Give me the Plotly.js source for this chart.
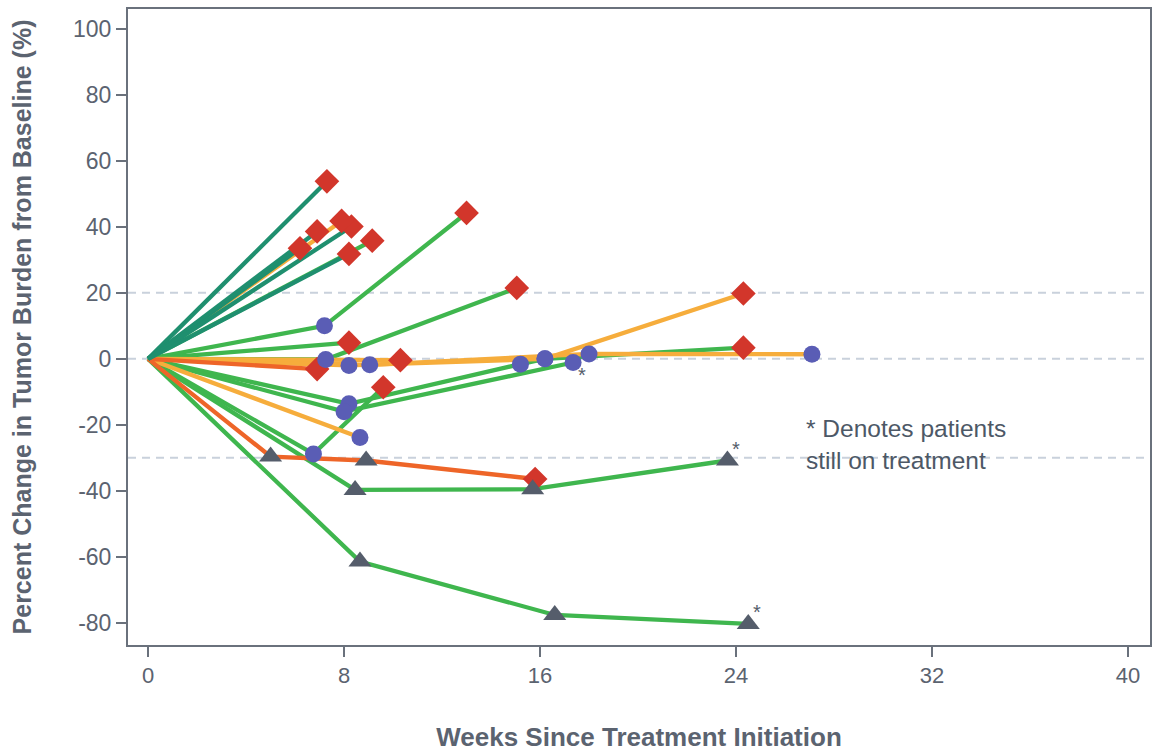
<!DOCTYPE html>
<html>
<head>
<meta charset="utf-8">
<script src="https://cdn.plot.ly/plotly-3.0.1.min.js"></script>
<style>html,body{margin:0;padding:0;background:#fff;}#chart{width:1154px;height:755px;}</style>
</head>
<body>
<div id="chart"></div>
<script>
// ---- Data (weeks since treatment initiation, % change in tumor burden) ----
const patientIds = ["T1","T2","T3","T4","T5","O1","O2","O3","O4","O5","R1","R2",
                    "G1","G2","G3","G4","G5","G6","G7","G8","G9"];
const patientGroup = ["teal","teal","teal","teal","teal","orange","orange","orange","orange","orange","red","red",
                      "green","green","green","green","green","green","green","green","green"];
const patientWeeks = [
  [0, 7.3], [0, 6.2], [0, 6.9], [0, 8.3], [0, 8.2],
  [0, 7.9], [0, 8.65], [0, 8.2, 16.2, 24.3], [0, 9.05, 18.0, 27.1], [0, 10.3],
  [0, 6.9], [0, 5.0, 8.9, 15.8],
  [0, 7.2, 13.0], [0, 8.2], [0, 7.25, 15.05], [0, 9.15], [0, 6.75, 9.6],
  [0, 8.2, 15.2, 16.2, 24.3], [0, 8.0, 17.35], [0, 8.45, 15.7, 23.65], [0, 8.65, 16.6, 24.5]
];
const patientChange = [
  [0, 53.8], [0, 33.5], [0, 38.6], [0, 40.1], [0, 31.8],
  [0, 41.8], [0, -23.8], [0, -2.0, 0.0, 19.8], [0, -1.8, 1.5, 1.4], [0, -0.4],
  [0, -3.1], [0, -29.6, -30.8, -36.4],
  [0, 10.0, 44.2], [0, 4.9], [0, -0.2, 21.5], [0, 35.8], [0, -28.8, -8.6],
  [0, -13.6, -1.6, 0.0, 3.4], [0, -16.0, -1.1], [0, -39.7, -39.5, -30.8], [0, -61.4, -77.6, -80.3]
];
// D = diamond, C = circle, T = triangle (marker at each assessment after baseline)
const patientMarkers = [
  ["D"], ["D"], ["D"], ["D"], ["D"],
  ["D"], ["C"], ["C","C","D"], ["C","C","C"], ["D"],
  ["D"], ["T","T","D"],
  ["C","D"], ["D"], ["C","D"], ["D"], ["C","D"],
  ["C","C","C","D"], ["C","C"], ["T","T","T"], ["T","T","T"]
];
const stillOnTreatment = ["G7","G8","G9"];
const referenceLines = [20, 0, -30];
const xTicks = [0, 8, 16, 24, 32, 40];
const yTicks = [100, 80, 60, 40, 20, 0, -20, -40, -60, -80];

// ---- Styles ----
const lineColors = {teal: "#1f8f6f", orange: "#f6ad3c", red: "#ee6528", green: "#3fb64e"};
const markerStyle = {
  D: {symbol: "diamond", color: "#d2362b", size: 19},
  C: {symbol: "circle", color: "#5a5db5", size: 17},
  T: {symbol: "triangle-up", color: "#555d6b", size: 20}
};
const textColor = "#5b6370";
const sans = "Liberation Sans, Arial, sans-serif";

const traces = [];
const drawOrder = ["green","orange","red","teal"];
drawOrder.forEach(g => {
  patientIds.forEach((id, i) => {
    if (patientGroup[i] !== g) return;
    traces.push({
      x: patientWeeks[i], y: patientChange[i], type: "scatter", mode: "lines",
      line: {color: lineColors[g], width: 4.3}, hoverinfo: "skip", showlegend: false
    });
  });
});
["D","C","T"].forEach(m => {
  const xs = [], ys = [];
  patientIds.forEach((id, i) => {
    patientMarkers[i].forEach((s, k) => {
      if (s === m) { xs.push(patientWeeks[i][k+1]); ys.push(patientChange[i][k+1]); }
    });
  });
  traces.push({
    x: xs, y: ys, type: "scatter", mode: "markers", showlegend: false,
    marker: {symbol: markerStyle[m].symbol, color: markerStyle[m].color, size: markerStyle[m].size, line: {width: 0}}
  });
});

const annotations = [];
stillOnTreatment.forEach(id => {
  const i = patientIds.indexOf(id);
  const n = patientWeeks[i].length - 1;
  const below = patientChange[i][n] > -10;
  annotations.push({
    x: patientWeeks[i][n], y: patientChange[i][n], xref: "x", yref: "y",
    text: "*", showarrow: false, font: {family: sans, size: 20, color: "#555d6b"},
    xshift: 9, yshift: below ? -13 : 12
  });
});
annotations.push({
  xref: "paper", yref: "paper", x: (804-128)/1022, y: 1-(444-9)/636, xanchor: "left", yanchor: "middle",
  align: "left", showarrow: false,
  text: "* Denotes patients<br>still on treatment",
  font: {family: sans, size: 24.5, color: "#4d5866"}
});

const shapes = referenceLines.map(v => ({
  type: "line", xref: "paper", yref: "y", x0: 0, x1: 1, y0: v, y1: v,
  line: {color: "#c9d1dc", width: 2, dash: "8px,6px"}, layer: "below"
}));

const layout = {
  width: 1154, height: 755,
  margin: {l: 128, r: 4, t: 9, b: 110},
  paper_bgcolor: "#ffffff", plot_bgcolor: "#ffffff",
  showlegend: false,
  font: {family: sans, color: textColor},
  xaxis: {
    range: [-0.82, 40.9], tickvals: xTicks, ticktext: xTicks.map(String),
    showgrid: false, zeroline: false, showline: true, mirror: true,
    linecolor: "#6a717c", linewidth: 2, ticks: "outside", ticklen: 10, tickwidth: 2, tickcolor: "#6a717c",
    tickfont: {size: 22, color: textColor, family: sans},
    title: {text: "<b>Weeks Since Treatment Initiation</b>", standoff: 40,
            font: {size: 26, color: textColor, family: sans}}
  },
  yaxis: {
    range: [-86.7, 106], tickvals: yTicks, ticktext: yTicks.map(String),
    showgrid: false, zeroline: false, showline: true, mirror: true,
    linecolor: "#6a717c", linewidth: 2, ticks: "outside", ticklen: 10, tickwidth: 2, tickcolor: "#6a717c",
    tickfont: {size: 23, color: textColor, family: sans},
    title: {text: "<b>Percent Change in Tumor Burden from Baseline (%)</b>", standoff: 34,
            font: {size: 25, color: textColor, family: sans}}
  },
  shapes: shapes,
  annotations: annotations
};

Plotly.newPlot("chart", traces, layout, {displayModeBar: false, staticPlot: true});
</script>
</body>
</html>
